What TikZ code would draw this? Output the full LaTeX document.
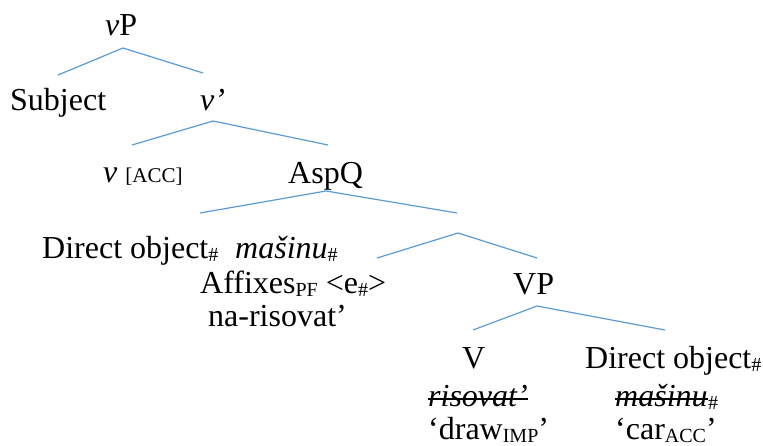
\documentclass[tikz,border=0pt]{standalone}
\usepackage{fontspec}
\setmainfont{Liberation Serif}
\newcommand{\sbs}[1]{\raisebox{-3pt}{\fontsize{20}{20}\selectfont #1}}
\definecolor{treeblue}{RGB}{91,155,213}
\begin{document}
\begin{tikzpicture}[x=1pt,y=-1pt,
  lbl/.style={anchor=base west,inner sep=0pt,font=\fontsize{32}{36}\selectfont},
  branch/.style={draw=treeblue,line width=1.2pt},
  strike/.style={draw=black,line width=1.4pt}]
\useasboundingbox (0,0) rectangle (763,445);
% labels
\node[lbl] (vP) at (105,35) {\textit{v}P};
\node[lbl] (subj) at (10,110) {Subject};
\node[lbl] (vbar) at (200,110) {\textit{v’}};
\node[lbl] (v) at (103,182) {\textit{v} {\fontsize{21}{22}\selectfont [ACC]}};
\node[lbl] (aspq) at (288,183) {AspQ};
\node[lbl] (do1) at (42,258) {Direct object\sbs{\#}};
\node[lbl] (mas1) at (235,258) {\textit{mašinu}\sbs{\#}};
\node[lbl] (aff) at (200,293) {Affixes\sbs{PF} <e\sbs{\#}>};
\node[lbl] (nar) at (208,326) {na-risovat’};
\node[lbl] (vp) at (513,294) {VP};
\node[lbl] (V) at (462,368) {V};
\node[lbl] (do2) at (585,368) {Direct object\sbs{\#}};
\node[lbl] (ris) at (428,406) {\textit{risovat’}};
\node[lbl] (mas2) at (615,406) {\textit{mašinu}};
\node[lbl,anchor=base west] (mas2s) at (mas2.base east) {\sbs{\#}};
\node[lbl] (draw) at (428,439) {‘draw\sbs{IMP}’};
\node[lbl] (car) at (615,439) {‘car\sbs{ACC}’};
% strike-through
\draw[strike] ([yshift=7pt]ris.base west) -- ([yshift=7pt]ris.base east);
\draw[strike] ([yshift=7pt]mas2.base west) -- ([yshift=7pt]mas2.base east);
% branch points
\coordinate (a1) at (123,48);  \coordinate (l1) at (58,75);   \coordinate (r1) at (203,73);
\coordinate (a2) at (213,121); \coordinate (l2) at (132,145); \coordinate (r2) at (328,145);
\coordinate (a3) at (326,191); \coordinate (l3) at (200,213); \coordinate (r3) at (457,213);
\coordinate (a4) at (458,233); \coordinate (l4) at (377,258); \coordinate (r4) at (537,258);
\coordinate (a5) at (537,306); \coordinate (l5) at (473,330); \coordinate (r5) at (665,330);
\draw[branch] (l1) -- (a1) -- (r1);
\draw[branch] (l2) -- (a2) -- (r2);
\draw[branch] (l3) -- (a3) -- (r3);
\draw[branch] (l4) -- (a4) -- (r4);
\draw[branch] (l5) -- (a5) -- (r5);
\end{tikzpicture}
\end{document}
